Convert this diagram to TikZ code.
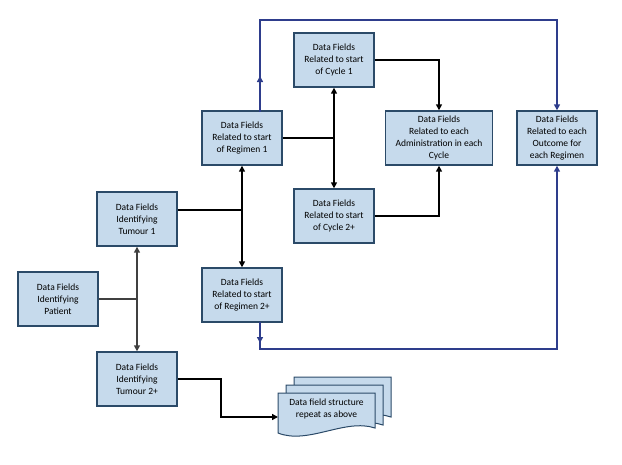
\documentclass[tikz,border=0pt]{standalone}
\usepackage{fontspec}
\setmainfont{Carlito}
\usetikzlibrary{arrows.meta}
\definecolor{boxfill}{HTML}{C6DAEC}
\definecolor{boxline}{HTML}{2B4A68}
\definecolor{bluel}{HTML}{2E3D8C}
\definecolor{grayl}{HTML}{404040}
\begin{document}
\begin{tikzpicture}[x=1pt,y=-1pt,
  box/.style={draw=boxline,fill=boxfill,line width=1.4pt,minimum width=80pt,minimum height=54pt,align=center,font=\fontsize{9.5}{12}\selectfont,inner sep=1pt},
  blk/.style={line width=1.6pt,draw=black,-{Triangle[length=6pt,width=6pt]}},
  blkb/.style={line width=1.6pt,draw=black,{Triangle[length=6pt,width=6pt]}-{Triangle[length=6pt,width=6pt]}},
  gryb/.style={line width=1.6pt,draw=grayl,{Triangle[length=6pt,width=6pt]}-{Triangle[length=6pt,width=6pt]}},
  blu/.style={line width=1.6pt,draw=bluel,-{Triangle[length=6pt,width=6pt]}},
  docs/.style={draw=boxline,fill=boxfill,line width=1pt}]
\useasboundingbox (0,0) rectangle (622,464);
\node[box] (pat) at (58,299) {Data Fields\\Identifying\\Patient};
\node[box] (t1) at (137,219) {Data Fields\\Identifying\\Tumour 1};
\node[box] (t2) at (137,379) {Data Fields\\Identifying\\Tumour 2+};
\node[box] (r1) at (242,138) {Data Fields\\Related to start\\of Regimen 1};
\node[box] (r2) at (242,295) {Data Fields\\Related to start\\of Regimen 2+};
\node[box] (c1) at (334,60) {Data Fields\\Related to start\\of Cycle 1};
\node[box] (c2) at (334,216) {Data Fields\\Related to start\\of Cycle 2+};
\node[box,minimum width=107pt] (ad) at (439,138) {Data Fields\\Related to each\\Administration in each\\Cycle};
\node[box] (oc) at (557,138) {Data Fields\\Related to each\\Outcome for\\each Regimen};
% multi document
\foreach \d in {16,8} {
  \path[docs] (278+\d,378-\d+15) -- ++(97,0) -- ++(0,40) .. controls ++(-30,-10) and ++(30,8) .. ++(-97,5) -- cycle;
}
\path[docs] (278,393) -- (375,393) -- (375,428) .. controls (345,418) and (308,445) .. (278,433) -- cycle;
\node[font=\fontsize{9.5}{12}\selectfont,align=center] (doc) at (326.5,409) {Data field structure\\repeat as above};
\coordinate (docin) at (278,417);
% grey
\draw[gryb] (t1.south) -- (t2.north);
\draw[line width=1.6pt,grayl] (pat.east) -- (pat.east -| t1.south);
% black
\draw[blkb] (r1.south) -- (r2.north);
\draw[line width=1.6pt] (t1.east |- 0,210) -- (242,210);
\draw[blkb] (c1.south) -- (c2.north);
\draw[line width=1.6pt] (r1.east) -- (r1.east -| c1.south);
\draw[blk] (c1.east) -| (ad.north);
\draw[blk] (c2.east) -| (ad.south);
\draw[blk] (t2.east) -- (221,379) |- (docin);
% blue
\draw[blu] (260,112) -- (260,76);
\draw[blu] (260,80) -- (260,20) -| (oc.north);
\draw[blu] (260,322) -- (260,343);
\draw[blu] (260,340) -- (260,349) -| (oc.south);
\end{tikzpicture}
\end{document}
